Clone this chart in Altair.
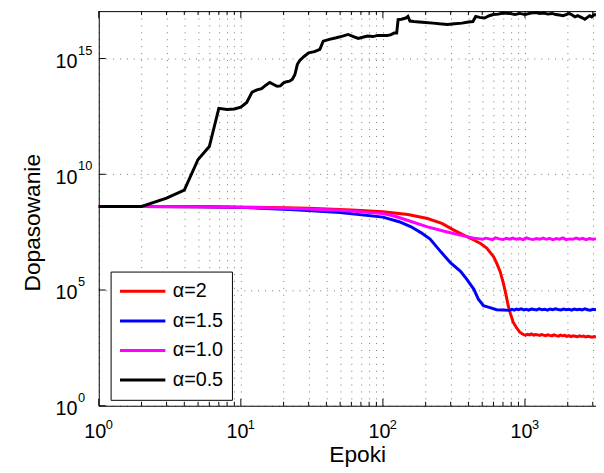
import altair as alt
import pandas as pd

# ---- data ----
series_names = ["α=2", "α=1.5", "α=1.0", "α=0.5"]
series_colors = ["#ff0000", "#0000ff", "#ff00ff", "#000000"]

red_epoch = [1, 2, 5, 10, 20, 30, 60, 100, 150, 206, 260, 316, 391, 437, 490, 538, 600, 631, 670, 703,
             735, 762, 790, 826, 870, 919, 980,
             1010, 1040, 1080, 1110, 1150, 1190, 1230, 1270, 1310, 1350, 1400, 1450, 1500, 1550, 1600,
             1660, 1720, 1780, 1840, 1900, 1970, 2040, 2110, 2180, 2260, 2340, 2420, 2500, 2590,
             2680, 2770, 2870, 2970, 3070, 3162]
red_value = [4.07e8, 4.07e8, 3.98e8, 3.80e8, 3.63e8, 3.39e8, 2.88e8, 2.40e8, 1.82e8, 1.23e8, 7.59e7,
             3.89e7, 2.0e7, 1.45e7, 1.0e7, 6.46e6, 2.82e6, 1.48e6, 6.03e5, 2.09e5,
             6.31e4, 2.09e4, 9.55e3, 4.07e3, 2.40e3, 1.51e3, 1.17e3,
             1.12e3, 1.22e3, 1.15e3, 1.26e3, 1.12e3, 1.20e3, 1.15e3, 1.10e3, 1.20e3, 1.12e3,
             1.07e3, 1.17e3, 1.10e3, 1.05e3, 1.15e3, 1.07e3, 1.02e3, 1.12e3, 1.05e3, 1.10e3,
             1.00e3, 1.07e3, 9.77e2, 1.05e3, 1.00e3, 9.55e2, 1.05e3, 9.77e2, 1.02e3, 9.33e2,
             1.00e3, 9.55e2, 9.12e2, 9.77e2, 9.33e2]

blue_epoch = [1, 2, 5, 10, 24, 50, 100, 130, 158, 185, 215, 255, 300, 352, 390, 437, 470, 510, 560,
              631, 700, 780,
              810, 840, 870, 900, 940, 980, 1020, 1060, 1110, 1160, 1210, 1260, 1320, 1380, 1440,
              1500, 1570, 1640, 1710, 1790, 1870, 1950, 2040, 2130, 2220, 2320, 2420, 2530, 2640,
              2760, 2880, 3010, 3162]
blue_value = [4.07e8, 4.07e8, 3.98e8, 3.72e8, 2.95e8, 2.24e8, 1.41e8, 8.91e7, 5.37e7, 3.02e7, 1.58e7,
              4.57e6, 1.48e6, 6.46e5, 2.88e5, 1.07e5, 3.98e4, 2.09e4, 1.78e4, 1.41e4, 1.38e4, 1.32e4,
              1.45e4, 1.35e4, 1.51e4, 1.41e4, 1.55e4, 1.38e4, 1.48e4, 1.35e4, 1.51e4, 1.45e4,
              1.38e4, 1.55e4, 1.41e4, 1.48e4, 1.35e4, 1.51e4, 1.41e4, 1.55e4, 1.45e4, 1.38e4,
              1.51e4, 1.41e4, 1.48e4, 1.35e4, 1.51e4, 1.41e4, 1.48e4, 1.38e4, 1.55e4, 1.41e4,
              1.35e4, 1.48e4, 1.41e4]

magenta_epoch = [1, 2, 5, 10, 24, 50, 100, 120, 158, 206, 270, 350, 437,
                 470, 500, 530, 560, 590, 620, 660, 700, 740, 780, 820, 870, 920, 970, 1020, 1080,
                 1140, 1200, 1270, 1340, 1410, 1490, 1570, 1660, 1750, 1850, 1950, 2060, 2170, 2290,
                 2420, 2550, 2690, 2840, 3000, 3162]
magenta_value = [4.07e8, 4.07e8, 3.98e8, 3.80e8, 3.31e8, 2.82e8, 2.0e8, 1.58e8, 9.12e7, 5.37e7,
                 3.47e7, 2.34e7, 1.74e7,
                 1.66e7, 1.55e7, 1.74e7, 1.62e7, 1.51e7, 1.78e7, 1.62e7, 1.51e7, 1.70e7, 1.58e7,
                 1.74e7, 1.55e7, 1.66e7, 1.51e7, 1.78e7, 1.62e7, 1.51e7, 1.66e7, 1.55e7, 1.74e7,
                 1.55e7, 1.70e7, 1.48e7, 1.66e7, 1.58e7, 1.78e7, 1.51e7, 1.62e7, 1.55e7, 1.74e7,
                 1.58e7, 1.70e7, 1.51e7, 1.66e7, 1.55e7, 1.62e7]

black_epoch = [1, 2, 3, 4, 5, 6, 7, 8, 9, 10,
               11, 12, 13, 14, 15, 16, 17, 18, 19, 20, 21, 22, 23, 24,
               25, 26, 28, 30, 33, 36, 38, 42, 47, 52,
               57, 62, 67, 72, 78, 85, 92, 100, 107, 113,
               120, 125, 128, 135, 145, 150, 155, 165, 180, 200,
               225, 250, 285, 320, 360, 400, 430, 450, 480, 520,
               560, 600, 650, 700, 780, 850, 920, 1000, 1100, 1200,
               1270, 1350, 1450, 1550, 1650, 1750, 1850, 1950, 2050, 2150,
               2250, 2350, 2450, 2550, 2640, 2750, 2850, 2950, 3070, 3162]
black_value = [4.07e8, 4.07e8, 9.33e8, 2.09e9, 4.37e10, 1.58e11, 7.08e12, 6.31e12, 6.61e12, 7.94e12,
               1.26e13, 3.55e13, 4.47e13, 5.01e13, 7.08e13, 9.33e13, 7.59e13, 6.31e13, 6.61e13,
               8.91e13, 1.0e14, 1.05e14, 1.26e14, 2.0e14,
               5.62e14, 8.32e14, 1.26e15, 1.78e15, 2.0e15, 2.51e15, 5.62e15, 6.76e15, 7.94e15, 9.33e15,
               1.10e16, 8.91e15, 7.41e15, 8.32e15, 9.33e15, 8.91e15, 1.0e16, 1.0e16, 1.0e16, 1.05e16,
               1.26e16, 1.26e16, 4.79e16, 5.01e16, 5.62e16, 6.61e16, 4.17e16, 3.98e16, 3.80e16, 3.63e16,
               3.39e16, 3.16e16, 2.95e16, 3.16e16, 3.39e16, 3.80e16, 3.98e16, 6.61e16, 6.03e16, 5.62e16,
               7.08e16, 7.94e16, 8.32e16, 9.33e16, 8.91e16, 7.94e16, 8.91e16, 7.94e16, 9.33e16, 9.77e16,
               8.91e16, 9.33e16, 8.32e16, 8.91e16, 7.94e16, 7.59e16, 7.08e16, 7.94e16, 8.91e16, 7.59e16,
               6.31e16, 7.08e16, 6.31e16, 5.62e16, 5.01e16, 6.03e16, 7.08e16, 6.31e16, 7.94e16, 7.59e16]

x_major = [1, 10, 100, 1000]
x_major_exp = ["0", "1", "2", "3"]
x_minor = [2, 3, 4, 5, 6, 7, 8, 9, 20, 30, 40, 50, 60, 70, 80, 90,
           200, 300, 400, 500, 600, 700, 800, 900, 2000, 3000]
y_major = [1, 1e5, 1e10, 1e15]
y_major_exp = ["0", "5", "10", "15"]

# ---- tables ----
rows = []
for name, xs, ys in [(series_names[0], red_epoch, red_value),
                     (series_names[1], blue_epoch, blue_value),
                     (series_names[2], magenta_epoch, magenta_value),
                     (series_names[3], black_epoch, black_value)]:
    for e, v in zip(xs, ys):
        rows.append({"series": name, "epoch": e, "value": v})
df = pd.DataFrame(rows)

W, H = 504, 400
FONT = "Liberation Sans"
GRID = dict(grid=True, gridColor="#000000", gridDash=[1, 6], gridOpacity=0.55, gridWidth=1)

xscale = alt.Scale(type="log", domain=[1, 3162], nice=False)
yscale = alt.Scale(type="log", domain=[1, 1.12e17], nice=False)

x_all = sorted(x_major + x_minor)
xaxis = alt.Axis(values=x_all,
                 labelExpr="(datum.value==1||datum.value==10||datum.value==100||datum.value==1000) ? '10' : ''",
                 ticks=False, labelPadding=16, labelOffset=-4, labelFontSize=20,
                 labelFont=FONT, labelColor="#000", labelBaseline="top", labelFlush=False,
                 labelOverlap=False,
                 title="Epoki", titleFont=FONT, titleFontSize=23, titleFontWeight="normal",
                 titleColor="#000", titleX=262, titleY=57, titleBaseline="alphabetic",
                 titleAlign="center", titleAnchor="middle",
                 domainColor="#000", domainWidth=1, **GRID)
yaxis = alt.Axis(values=y_major, labelExpr="'10'", ticks=False, labelPadding=22,
                 labelOffset=9, labelBaseline="alphabetic", labelAlign="right", labelFontSize=20,
                 labelFont=FONT, labelColor="#000", labelFlush=False, labelOverlap=False,
                 title="Dopasowanie", titleFont=FONT, titleFontSize=23, titleFontWeight="normal",
                 titleColor="#000", titleAngle=270, titleX=-60, titleY=214,
                 titleBaseline="alphabetic", titleAlign="center",
                 domainColor="#000", domainWidth=1, **GRID)

X = alt.X("epoch:Q", scale=xscale, axis=xaxis)
Y = alt.Y("value:Q", scale=yscale, axis=yaxis)

lines = alt.Chart(df).mark_line(strokeWidth=3).encode(
    x=X, y=Y,
    color=alt.Color("series:N",
                    scale=alt.Scale(domain=series_names, range=series_colors),
                    sort=series_names,
                    legend=alt.Legend(title=None, orient="none", legendX=12, legendY=264,
                                      symbolType="stroke", symbolSize=2116, symbolStrokeWidth=3,
                                      labelFontSize=20, labelFont=FONT, labelColor="#000",
                                      labelOffset=6, clipHeight=24, rowPadding=6, padding=8,
                                      fillColor="#ffffff", strokeColor="#000000")),
    order=alt.Order("epoch:Q"),
    detail="series:N",
)

xmaj_df = pd.DataFrame({"epoch": x_major, "exp": x_major_exp})
xmin_df = pd.DataFrame({"epoch": x_minor})
ymaj_df = pd.DataFrame({"value": y_major, "exp": y_major_exp})

x_exp = alt.Chart(xmaj_df).mark_text(align="left", baseline="alphabetic", dx=7, fontSize=13,
                                     font=FONT, color="#000").encode(
    x=X, y=alt.value(H + 24), text="exp:N")
y_exp = alt.Chart(ymaj_df).mark_text(align="left", baseline="alphabetic", dy=-4, fontSize=13,
                                     font=FONT, color="#000").encode(
    x=alt.value(-21), y=Y, text="exp:N")

tick_bot_major = alt.Chart(xmaj_df).mark_rule(color="#000").encode(
    x=X, y=alt.value(H), y2=alt.value(H - 7))
tick_bot_minor = alt.Chart(xmin_df).mark_rule(color="#000").encode(
    x=X, y=alt.value(H), y2=alt.value(H - 4))
tick_top_major = alt.Chart(xmaj_df).mark_rule(color="#000").encode(
    x=X, y=alt.value(0), y2=alt.value(7))
tick_top_minor = alt.Chart(xmin_df).mark_rule(color="#000").encode(
    x=X, y=alt.value(0), y2=alt.value(4))
tick_left = alt.Chart(ymaj_df).mark_rule(color="#000").encode(
    y=Y, x=alt.value(0), x2=alt.value(7))
top_border = alt.Chart(pd.DataFrame({"a": [0]})).mark_rule(color="#000", strokeWidth=1).encode(
    x=alt.value(0), x2=alt.value(W), y=alt.value(0.5))

chart = alt.layer(
    tick_bot_major, tick_bot_minor, tick_top_major, tick_top_minor, tick_left,
    lines, x_exp, y_exp, top_border
).properties(
    width=W, height=H,
    background="#ffffff",
    autosize=alt.AutoSizeParams(type="none"),
    padding={"left": 92, "top": 0, "right": 0, "bottom": 65},
).configure_view(stroke=None)

chart.save("out.html", embed_options={"renderer": "svg", "actions": False})
